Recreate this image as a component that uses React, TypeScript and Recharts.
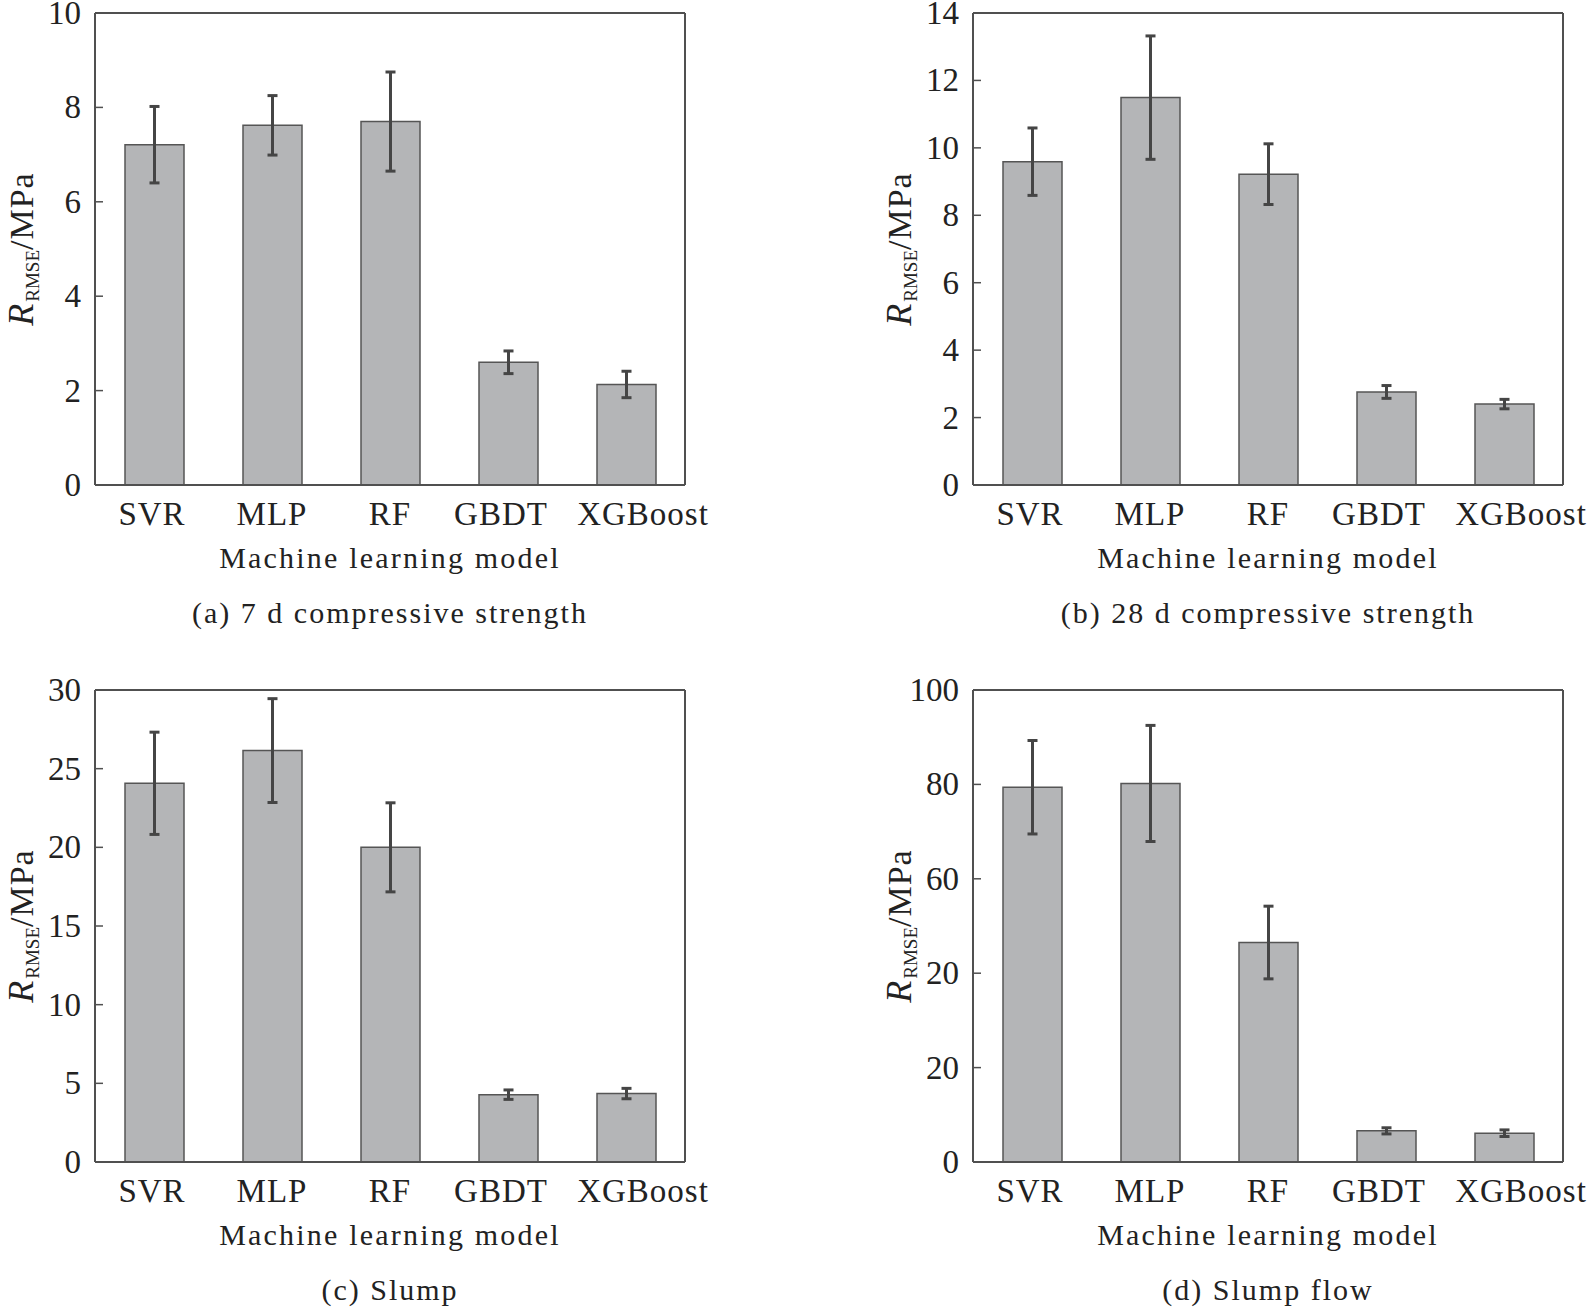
import React from 'react';
import { BarChart, Bar, XAxis, YAxis, ErrorBar } from 'recharts';

// models on the x axis, same for all four panels
const models = ['SVR', 'MLP', 'RF', 'GBDT', 'XGBoost'];

// (a) 7 d compressive strength
const strength7d = [7.21, 7.62, 7.7, 2.6, 2.13];
const strength7dErr = [0.81, 0.63, 1.05, 0.24, 0.28];
const ticks7d = [0, 2, 4, 6, 8, 10];

// (b) 28 d compressive strength
const strength28d = [9.59, 11.49, 9.22, 2.76, 2.4];
const strength28dErr = [1.0, 1.83, 0.9, 0.19, 0.14];
const ticks28d = [0, 2, 4, 6, 8, 10, 12, 14];

// (c) slump
const slump = [24.07, 26.15, 20.0, 4.28, 4.35];
const slumpErr = [3.25, 3.3, 2.83, 0.3, 0.33];
const ticksSlump = [0, 5, 10, 15, 20, 25, 30];

// (d) slump flow
const slumpFlow = [79.4, 80.2, 46.5, 6.6, 6.1];
const slumpFlowErr = [9.9, 12.3, 7.7, 0.65, 0.7];
const ticksFlow = [0, 20, 40, 60, 80, 100];
// the printed labels on this axis (the original figure repeats "20")
const flowTickLabels = ['0', '20', '20', '60', '80', '100'];

const FONT = '"Liberation Serif", "Times New Roman", serif';
const FRAME = '#505050';
const W = 711;
const H = 654;

// the category words are spread a little wider than the bars in the original
const labelShift: Record<string, number> = { SVR: -2, GBDT: -7, XGBoost: 17 };

const renderYTick = (ticks: number[], labels: string[]) => (p: any) => {
  const { x, y, payload } = p;
  const i = ticks.indexOf(payload.value);
  return (
    <g>
      <line x1={x} y1={y} x2={x + 8} y2={y} stroke={FRAME} strokeWidth={1.5} />
      <text x={x - 14} y={y} dy={11} textAnchor="end" fontFamily={FONT} fontSize={33} fill="#222">
        {labels[i]}
      </text>
    </g>
  );
};

const renderXTick = (p: any) => {
  const { x, y, payload } = p;
  return (
    <text x={x + (labelShift[payload.value] || 0)} y={y + 40} textAnchor="middle" fontFamily={FONT}
      fontSize={33} letterSpacing={1} fill="#222">
      {payload.value}
    </text>
  );
};

const renderXLabel = (caption: string) => (p: any) => {
  const { x, y, width } = p.viewBox;
  const cx = x + width / 2;
  return (
    <g>
      <text x={cx} y={y + 83} textAnchor="middle" fontFamily={FONT} fontSize={30} letterSpacing={2.2} fill="#222">
        Machine learning model
      </text>
      <text x={cx} y={y + 138} textAnchor="middle" fontFamily={FONT} fontSize={30} letterSpacing={2} fill="#222">
        {caption}
      </text>
    </g>
  );
};

const renderYLabel = (p: any) => {
  const { x, y, height } = p.viewBox;
  const cx = x - 61;
  const cy = y + height / 2;
  return (
    <text x={cx} y={cy} transform={`rotate(-90 ${cx} ${cy})`} textAnchor="middle" fontFamily={FONT} fontSize={34} fill="#222">
      <tspan fontStyle="italic" fontSize={36}>R</tspan>
      <tspan fontSize={19} dx={2} dy={6}>RMSE</tspan>
      <tspan dy={-6} letterSpacing={1}>/MPa</tspan>
    </text>
  );
};

type PanelProps = {
  values: number[];
  errors: number[];
  ticks: number[];
  tickLabels: string[];
  caption: string;
  left: number;
  top: number;
};

const Panel = ({ values, errors, ticks, tickLabels, caption, left, top }: PanelProps) => {
  const data = models.map((m, i) => ({ model: m, value: values[i], err: errors[i] }));
  const max = ticks[ticks.length - 1];
  return (
    <div style={{ position: 'absolute', left, top, width: W, height: H }}>
      <BarChart width={W} height={H} data={data} margin={{ top: 32, right: 25, bottom: 148, left: 94 }}>
        <XAxis
          dataKey="model"
          height={1}
          interval={0}
          tickSize={0}
          tickMargin={0}
          tickLine={false}
          axisLine={{ stroke: FRAME, strokeWidth: 2 }}
          tick={renderXTick}
          label={renderXLabel(caption)}
        />
        <XAxis
          xAxisId="top"
          orientation="top"
          dataKey="model"
          height={1}
          tick={false}
          tickLine={false}
          axisLine={{ stroke: FRAME, strokeWidth: 2 }}
        />
        <YAxis
          width={1}
          domain={[0, max]}
          ticks={ticks}
          interval={0}
          tickSize={0}
          tickMargin={0}
          tickLine={false}
          axisLine={{ stroke: FRAME, strokeWidth: 2 }}
          tick={renderYTick(ticks, tickLabels)}
          label={renderYLabel}
        />
        <YAxis
          yAxisId="right"
          orientation="right"
          width={1}
          domain={[0, max]}
          tick={false}
          tickLine={false}
          axisLine={{ stroke: FRAME, strokeWidth: 2 }}
        />
        <Bar dataKey="value" fill="#b4b5b7" stroke="#555555" strokeWidth={1.5} barSize={59} isAnimationActive={false}>
          <ErrorBar dataKey="err" width={5} strokeWidth={3} stroke="#454545" />
        </Bar>
      </BarChart>
    </div>
  );
};

const App = () => {
  return (
    <div style={{ position: 'absolute', left: 0, top: 0, width: 1589, height: 1311, overflow: 'hidden', background: '#fff' }}>
      <Panel values={strength7d} errors={strength7dErr} ticks={ticks7d} tickLabels={ticks7d.map(String)}
        caption="(a) 7 d compressive strength" left={0} top={-20} />
      <Panel values={strength28d} errors={strength28dErr} ticks={ticks28d} tickLabels={ticks28d.map(String)}
        caption="(b) 28 d compressive strength" left={878} top={-20} />
      <Panel values={slump} errors={slumpErr} ticks={ticksSlump} tickLabels={ticksSlump.map(String)}
        caption="(c) Slump" left={0} top={657} />
      <Panel values={slumpFlow} errors={slumpFlowErr} ticks={ticksFlow} tickLabels={flowTickLabels}
        caption="(d) Slump flow" left={878} top={657} />
    </div>
  );
};

export default App;
